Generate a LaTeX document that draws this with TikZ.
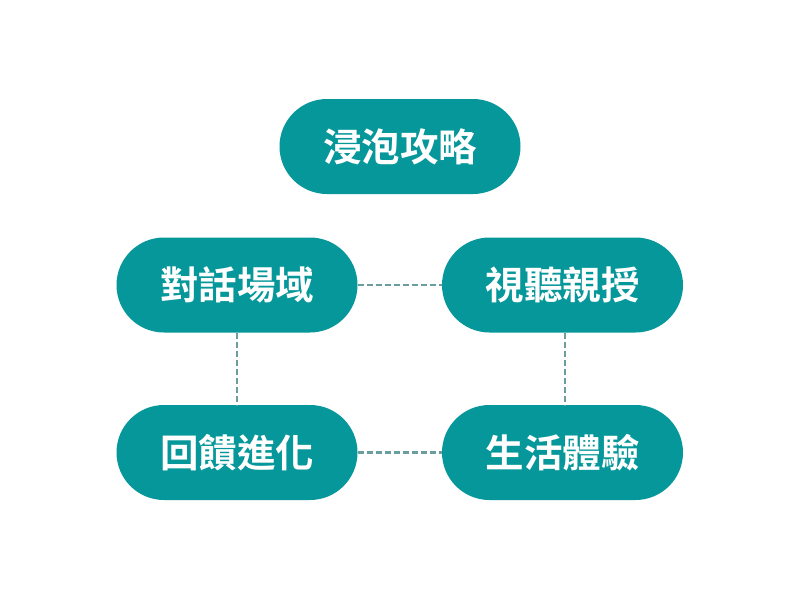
\documentclass[tikz,border=0pt]{standalone}
\usepackage{fontspec}
\newfontfamily\cjk{Noto Sans CJK TC Bold}
\definecolor{teal1}{HTML}{05979A}
\definecolor{dashc}{HTML}{6A9E9E}
\begin{document}
\begin{tikzpicture}[x=1pt,y=-1pt,
  pill/.style={fill=teal1, draw=none, rounded corners=47.5pt, minimum width=241pt, minimum height=95pt, inner sep=0pt, text=white, font=\cjk\fontsize{38.5}{42}\selectfont},
  link/.style={draw=dashc, line width=2.2pt, dash pattern=on 6pt off 3pt}]
\useasboundingbox (0,0) rectangle (800,600);
\fill[white] (0,0) rectangle (800,600);
\node[pill] (top) at (400,146.5) {浸泡攻略};
\node[pill] (l) at (237,285) {對話場域};
\node[pill] (r) at (562.5,285) {視聽親授};
\node[pill] (bl) at (237,452.5) {回饋進化};
\node[pill] (br) at (562.5,452.5) {生活體驗};
\draw[link] (l.east) -- (r.west);
\draw[link] (bl.east) -- (br.west);
\draw[link] (l.south) -- (bl.north);
\draw[link] ([xshift=2.5pt]r.south) -- ([xshift=2.5pt]br.north);
\end{tikzpicture}
\end{document}
